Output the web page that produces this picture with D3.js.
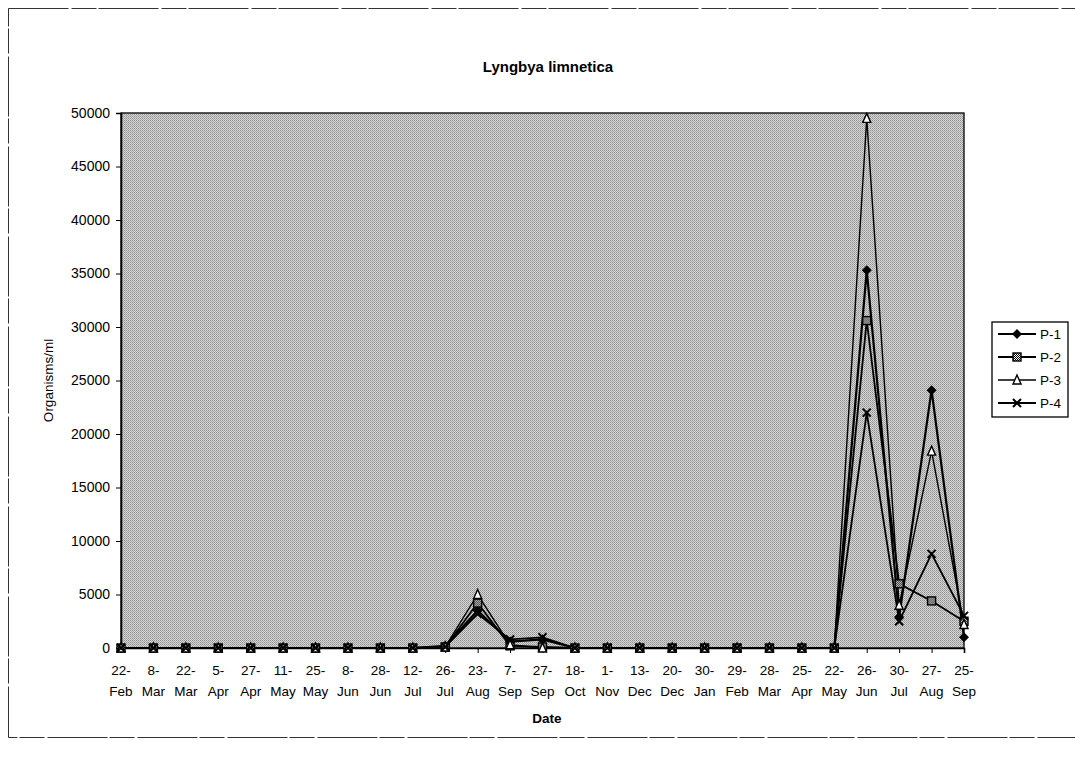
<!DOCTYPE html>
<html>
<head>
<meta charset="utf-8">
<script src="https://cdn.jsdelivr.net/npm/d3@7"></script>
<style>
  body { margin: 0; background: #fff; }
  svg { display: block; font-family: "Liberation Sans", Arial, sans-serif; }
</style>
</head>
<body>
<svg id="chart" width="1075" height="760"></svg>
<script>
// categories (sampling dates)
const dates = ["22-Feb","8-Mar","22-Mar","5-Apr","27-Apr","11-May","25-May","8-Jun","28-Jun","12-Jul",
  "26-Jul","23-Aug","7-Sep","27-Sep","18-Oct","1-Nov","13-Dec","20-Dec","30-Jan","29-Feb",
  "28-Mar","25-Apr","22-May","26-Jun","30-Jul","27-Aug","25-Sep"];

// organisms/ml per station
const p1 = [0,0,0,0,0,0,0,0,0,0,200,3500,600,800,0,0,0,0,0,0,0,0,0,35300,2900,24100,1000];
const p2 = [0,0,0,0,0,0,0,0,0,0,100,4200,200,100,0,0,0,0,0,0,0,0,0,30600,6000,4400,2500];
const p3 = [0,0,0,0,0,0,0,0,0,0,100,5000,300,0,0,0,0,0,0,0,0,0,0,49500,4000,18400,2200];
const p4 = [0,0,0,0,0,0,0,0,0,0,100,3200,800,1000,0,0,0,0,0,0,0,0,0,22000,2500,8800,3000];

const seriesNames = ["P-1","P-2","P-3","P-4"];
const yTicks = [0,5000,10000,15000,20000,25000,30000,35000,40000,45000,50000];

const series = [
  {name: seriesNames[0], values: p1, marker: "diamond", width: 2.2},
  {name: seriesNames[1], values: p2, marker: "square", width: 1.8},
  {name: seriesNames[2], values: p3, marker: "triangle", width: 1.4},
  {name: seriesNames[3], values: p4, marker: "cross", width: 1.8}
];

const plot = {left: 121, right: 964, top: 113, bottom: 648};

const svg = d3.select("#chart");

// dithered grey like the printed plot area
const defs = svg.append("defs");
const pat = defs.append("pattern")
  .attr("id", "dither")
  .attr("width", 2).attr("height", 2)
  .attr("patternUnits", "userSpaceOnUse");
pat.append("rect").attr("width", 2).attr("height", 2).attr("fill", "#d6d6d6");
pat.append("rect").attr("width", 1).attr("height", 1).attr("fill", "#8e8e8e");
pat.append("rect").attr("x", 1).attr("y", 1).attr("width", 1).attr("height", 1).attr("fill", "#a8a8a8");

const squarePat = defs.append("pattern")
  .attr("id", "checker")
  .attr("width", 2).attr("height", 2)
  .attr("patternUnits", "userSpaceOnUse");
squarePat.append("rect").attr("width", 2).attr("height", 2).attr("fill", "#fff");
squarePat.append("rect").attr("width", 1).attr("height", 1).attr("fill", "#000");
squarePat.append("rect").attr("x", 1).attr("y", 1).attr("width", 1).attr("height", 1).attr("fill", "#000");

// outer chart frame
svg.append("rect")
  .attr("x", 8.5).attr("y", 8.5)
  .attr("width", 1080).attr("height", 729)
  .attr("fill", "none")
  .attr("stroke", "#333")
  .attr("stroke-width", 1)
  .attr("stroke-dasharray", "60,3,25,2");

const x = d3.scalePoint()
  .domain(dates)
  .range([plot.left, plot.right]);

const y = d3.scaleLinear()
  .domain([0, 50000])
  .range([plot.bottom, plot.top]);

svg.append("rect")
  .attr("x", plot.left).attr("y", plot.top)
  .attr("width", plot.right - plot.left)
  .attr("height", plot.bottom - plot.top)
  .attr("fill", "url(#dither)")
  .attr("stroke", "#000")
  .attr("stroke-width", 1.3);

// y axis
const yAxis = svg.append("g")
  .attr("transform", `translate(${plot.left},0)`)
  .call(d3.axisLeft(y).tickValues(yTicks).tickFormat(d3.format("d")).tickSize(5).tickPadding(6));
yAxis.select(".domain").attr("stroke-width", 1.6);
yAxis.selectAll("text").style("font-size", "14px").attr("fill", "#000");

// x axis
const xAxis = svg.append("g")
  .attr("transform", `translate(0,${plot.bottom})`)
  .call(d3.axisBottom(x).tickSize(5).tickFormat(""));
xAxis.select(".domain").attr("stroke-width", 1.6);

const xLab = svg.append("g");
dates.forEach(d => {
  const parts = d.split("-");
  const t = xLab.append("text")
    .attr("x", x(d))
    .attr("text-anchor", "middle")
    .style("font-size", "13.5px");
  t.append("tspan").attr("x", x(d)).attr("y", plot.bottom + 27).text(parts[0] + "-");
  t.append("tspan").attr("x", x(d)).attr("y", plot.bottom + 48).text(parts[1]);
});

// marker drawing
function drawMarker(g, type, size) {
  const s = size / 2;
  if (type === "diamond") {
    g.append("path").attr("d", `M0,${-s - 1}L${s + 1},0L0,${s + 1}L${-s - 1},0Z`).attr("fill", "#000");
  } else if (type === "square") {
    g.append("rect").attr("x", -s).attr("y", -s).attr("width", size).attr("height", size)
      .attr("fill", "url(#checker)").attr("stroke", "#000").attr("stroke-width", 1.4);
  } else if (type === "triangle") {
    g.append("path").attr("d", `M0,${-s - 1}L${s},${s}L${-s},${s}Z`)
      .attr("fill", "#fff").attr("stroke", "#000").attr("stroke-width", 1.4);
  } else {
    g.append("path").attr("d", `M${-s},${-s}L${s},${s}M${-s},${s}L${s},${-s}`)
      .attr("stroke", "#000").attr("stroke-width", 2);
  }
}

const line = d3.line()
  .x((d, i) => x(dates[i]))
  .y(d => y(d));

series.forEach(s => {
  svg.append("path")
    .attr("d", line(s.values))
    .attr("fill", "none")
    .attr("stroke", "#000")
    .attr("stroke-width", s.width);
});

series.forEach(s => {
  s.values.forEach((v, i) => {
    const g = svg.append("g").attr("transform", `translate(${x(dates[i])},${y(v)})`);
    drawMarker(g, s.marker, 8);
  });
});

// titles
svg.append("text")
  .attr("x", 548).attr("y", 72)
  .attr("text-anchor", "middle")
  .style("font-size", "15px").style("font-weight", "bold")
  .text("Lyngbya limnetica");

svg.append("text")
  .attr("x", 547).attr("y", 723)
  .attr("text-anchor", "middle")
  .style("font-size", "13.5px").style("font-weight", "bold")
  .text("Date");

svg.append("text")
  .attr("transform", `translate(53,${(plot.top + plot.bottom) / 2}) rotate(-90)`)
  .attr("text-anchor", "middle")
  .style("font-size", "13.5px")
  .text("Organisms/ml");

// legend
const legend = svg.append("g").attr("transform", "translate(992,322)");
legend.append("rect")
  .attr("width", 76).attr("height", 95)
  .attr("fill", "#fff").attr("stroke", "#000").attr("stroke-width", 1.3);

series.forEach((s, i) => {
  const row = legend.append("g").attr("transform", `translate(0,${12 + i * 23})`);
  row.append("line").attr("x1", 6).attr("x2", 44).attr("y1", 0).attr("y2", 0)
    .attr("stroke", "#000").attr("stroke-width", s.width);
  drawMarker(row.append("g").attr("transform", "translate(25,0)"), s.marker, 8);
  row.append("text").attr("x", 48).attr("y", 5).style("font-size", "13.5px").text(s.name);
});
</script>
</body>
</html>
